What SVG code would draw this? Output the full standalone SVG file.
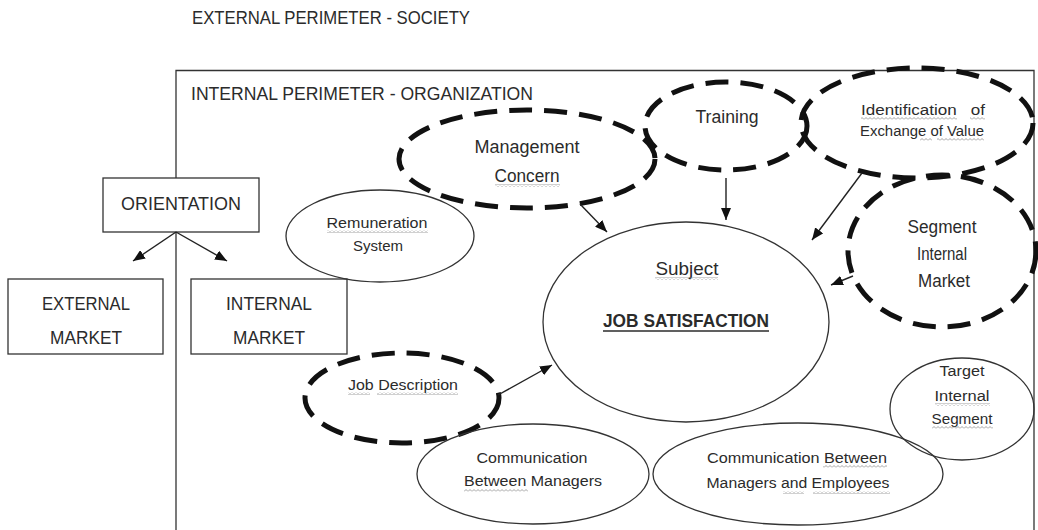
<svg xmlns="http://www.w3.org/2000/svg" width="1038" height="530" viewBox="0 0 1038 530">
<style>
text{font-family:"Liberation Sans",Arial,sans-serif;fill:#2b2b2b;text-anchor:middle}
.ttl{font-size:18px}
.big{font-size:17.5px}
.sm{font-size:15.5px}
.solid{fill:none;stroke:#333;stroke-width:1.3}
.dash{fill:none;stroke:#111;stroke-width:5;stroke-dasharray:23 12}
.box{fill:#fff;stroke:#333;stroke-width:1.3}
.conn{stroke:#222;stroke-width:1.4;fill:none;marker-end:url(#ah)}
.sq{fill:url(#sq)}
</style>
<defs>
<marker id="ah" markerUnits="userSpaceOnUse" markerWidth="13" markerHeight="10" refX="12" refY="5" orient="auto">
<path d="M0,0 L12,5 L0,10 z" fill="#111"/>
</marker>
<pattern id="sq" width="4" height="3" patternUnits="userSpaceOnUse">
<path d="M0,2.5 L2,0.5 L4,2.5" fill="none" stroke="#8a8a8a" stroke-width="0.8"/>
</pattern>
</defs>
<rect width="1038" height="530" fill="#fff"/>

<g id="society">
<text x="331" y="24" class="ttl" textLength="278" lengthAdjust="spacingAndGlyphs">EXTERNAL PERIMETER - SOCIETY</text>
</g>

<g id="organization">
<path d="M176,535 V70.5 H1034 V535" fill="none" stroke="#333" stroke-width="1.3"/>
<text x="362" y="100" class="ttl" textLength="342" lengthAdjust="spacingAndGlyphs">INTERNAL PERIMETER - ORGANIZATION</text>
</g>

<g id="orientation">
<rect x="103" y="178" width="156" height="54" class="box"/>
<text x="181" y="210" class="ttl" textLength="120" lengthAdjust="spacingAndGlyphs">ORIENTATION</text>
</g>

<g id="external-market">
<rect x="8" y="279" width="155" height="75" class="box"/>
<text x="86" y="310" class="ttl" textLength="88" lengthAdjust="spacingAndGlyphs">EXTERNAL</text>
<text x="86" y="344" class="ttl" textLength="72" lengthAdjust="spacingAndGlyphs">MARKET</text>
</g>

<g id="internal-market">
<rect x="191" y="279" width="156" height="75" class="box"/>
<text x="269" y="310" class="ttl" textLength="86" lengthAdjust="spacingAndGlyphs">INTERNAL</text>
<text x="269" y="344" class="ttl" textLength="72" lengthAdjust="spacingAndGlyphs">MARKET</text>
</g>

<g id="remuneration">
<ellipse cx="380" cy="236" rx="94" ry="46" class="solid"/>
<text x="377" y="228" class="sm" textLength="101" lengthAdjust="spacingAndGlyphs">Remuneration</text>
<text x="378" y="251" class="sm" textLength="50" lengthAdjust="spacingAndGlyphs">System</text>
<rect x="327" y="230" width="101" height="3" class="sq"/>
</g>

<g id="management-concern">
<ellipse cx="527" cy="159" rx="128" ry="49" class="dash"/>
<text x="527" y="153" class="big" textLength="105" lengthAdjust="spacingAndGlyphs">Management</text>
<text x="527" y="182" class="big" textLength="65" lengthAdjust="spacingAndGlyphs">Concern</text>
<rect x="495" y="184" width="65" height="3" class="sq"/>
</g>

<g id="training">
<ellipse cx="726" cy="126" rx="81" ry="44" class="dash"/>
<text x="727" y="123" class="big" textLength="63" lengthAdjust="spacingAndGlyphs">Training</text>
</g>

<g id="identification">
<ellipse cx="917" cy="123" rx="116" ry="55" class="dash"/>
<text x="923" y="115" class="sm" xml:space="preserve" textLength="124" lengthAdjust="spacingAndGlyphs">Identification   of</text>
<text x="922" y="136" class="sm" textLength="124" lengthAdjust="spacingAndGlyphs">Exchange of Value</text>
<rect x="861" y="117" width="96" height="3" class="sq"/>
<rect x="970" y="117" width="15" height="3" class="sq"/>
<rect x="920" y="138" width="12" height="3" class="sq"/>
<rect x="937" y="138" width="47" height="3" class="sq"/>
</g>

<g id="segment-internal-market">
<ellipse cx="942" cy="251" rx="94" ry="76" class="dash"/>
<text x="942" y="233" class="big" textLength="69" lengthAdjust="spacingAndGlyphs">Segment</text>
<text x="942" y="260" class="big" textLength="50" lengthAdjust="spacingAndGlyphs">Internal</text>
<text x="944" y="287" class="big" textLength="52" lengthAdjust="spacingAndGlyphs">Market</text>
</g>

<g id="job-satisfaction">
<ellipse cx="686" cy="322" rx="143" ry="100" class="solid"/>
<text x="687" y="275" class="big" textLength="63" lengthAdjust="spacingAndGlyphs">Subject</text>
<rect x="655" y="277" width="63" height="3" class="sq"/>
<text x="686" y="327" class="big" font-weight="bold" textLength="166" lengthAdjust="spacingAndGlyphs">JOB SATISFACTION</text>
<line x1="603" y1="331" x2="769" y2="331" stroke="#2b2b2b" stroke-width="1.4"/>
</g>

<g id="job-description">
<ellipse cx="402" cy="398" rx="97" ry="45" class="dash"/>
<text x="403" y="390" class="sm" textLength="110" lengthAdjust="spacingAndGlyphs">Job Description</text>
<rect x="348" y="392" width="22" height="3" class="sq"/>
<rect x="377" y="392" width="81" height="3" class="sq"/>
</g>

<g id="communication-managers">
<ellipse cx="533" cy="474" rx="116" ry="50" class="solid"/>
<text x="532" y="463" class="sm" textLength="111" lengthAdjust="spacingAndGlyphs">Communication</text>
<text x="533" y="486" class="sm" textLength="138" lengthAdjust="spacingAndGlyphs">Between Managers</text>
<rect x="464" y="489" width="64" height="3" class="sq"/>
</g>

<g id="communication-managers-employees">
<ellipse cx="798" cy="474" rx="145" ry="51" class="solid"/>
<text x="797" y="463" class="sm" textLength="180" lengthAdjust="spacingAndGlyphs">Communication Between</text>
<text x="798" y="488" class="sm" textLength="183" lengthAdjust="spacingAndGlyphs">Managers and Employees</text>
<rect x="823" y="465" width="64" height="3" class="sq"/>
<rect x="783" y="491" width="21" height="3" class="sq"/>
<rect x="813" y="491" width="77" height="3" class="sq"/>
</g>

<g id="target-internal-segment">
<ellipse cx="962" cy="409" rx="72" ry="51" class="solid"/>
<text x="962" y="376" class="sm" textLength="45" lengthAdjust="spacingAndGlyphs">Target</text>
<text x="962" y="401" class="sm" textLength="55" lengthAdjust="spacingAndGlyphs">Internal</text>
<text x="962" y="424" class="sm" textLength="61" lengthAdjust="spacingAndGlyphs">Segment</text>
<rect x="935" y="403" width="55" height="3" class="sq"/>
<rect x="932" y="426" width="61" height="3" class="sq"/>
</g>

<g id="connectors">
<line x1="176" y1="232" x2="133" y2="261" class="conn"/>
<line x1="176" y1="232" x2="227" y2="261" class="conn"/>
<line x1="580" y1="204" x2="607" y2="232" class="conn"/>
<line x1="726" y1="178" x2="726" y2="220" class="conn"/>
<line x1="862" y1="173" x2="812" y2="240" class="conn"/>
<line x1="853" y1="276" x2="831" y2="285" class="conn"/>
<line x1="498" y1="395" x2="552" y2="365" class="conn"/>
</g>
</svg>
